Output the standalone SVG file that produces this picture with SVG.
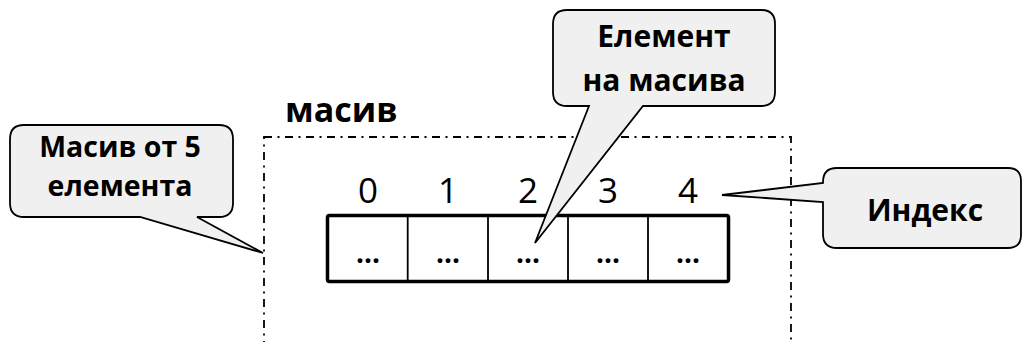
<svg xmlns="http://www.w3.org/2000/svg" width="1023" height="342" viewBox="0 0 1023 342">
<style>
.call{fill:#f0f0f0;stroke:#000;stroke-width:1.8;stroke-linejoin:miter}
.ct{font-family:"Open Sans","Noto Sans",sans-serif;font-weight:bold;font-size:30px;fill:#000;text-anchor:middle}
.idx{font-family:"Open Sans","Noto Sans",sans-serif;font-size:35px;fill:#000;text-anchor:middle}
.dots{font-family:"Open Sans","Noto Sans",sans-serif;font-weight:bold;font-size:28px;fill:#000;text-anchor:middle}
</style>
<rect width="1023" height="342" fill="#fff"/>
<g id="array-frame">
<rect x="264" y="137" width="527" height="230" fill="none" stroke="#000" stroke-width="1.8" stroke-dasharray="8 5.5 2 5.5"/>
<text x="285" y="122" font-family="Open Sans, Noto Sans, sans-serif" font-weight="bold" font-size="34" fill="#000">масив</text>
</g>
<g id="indices">
<text class="idx" x="368" y="203">0</text>
<text class="idx" x="448" y="203">1</text>
<text class="idx" x="528" y="203">2</text>
<text class="idx" x="608" y="203">3</text>
<text class="idx" x="688" y="203">4</text>
</g>
<g id="array">
<rect x="327.5" y="215.5" width="401" height="66" rx="2" fill="#fff" stroke="#000" stroke-width="3.5"/>
<path d="M407.7 216V282M488 216V282M568 216V282M648 216V282" stroke="#000" stroke-width="1.8" fill="none"/>
<text class="dots" x="368" y="263">...</text>
<text class="dots" x="448" y="263">...</text>
<text class="dots" x="528" y="263">...</text>
<text class="dots" x="608" y="263">...</text>
<text class="dots" x="688" y="263">...</text>
</g>
<g id="callout-array">
<path class="call" d="M24 125H219Q233 125 233 139V203Q233 217 219 217H197L263 253L140 217H24Q10 217 10 203V139Q10 125 24 125Z"/>
<text class="ct" x="120" y="157" style="font-size:28.5px">Масив от 5</text>
<text class="ct" x="120" y="196" style="font-size:28.5px">елемента</text>
</g>
<g id="callout-element">
<path class="call" d="M567 10H761Q775 10 775 24V92Q775 106 761 106H643L535 243L589 106H567Q553 106 553 92V24Q553 10 567 10Z"/>
<text class="ct" x="664" y="47">Елемент</text>
<text class="ct" x="664" y="91">на масива</text>
</g>
<g id="callout-index">
<path class="call" d="M837 168H1008Q1021 168 1021 181V235Q1021 248 1008 248H837Q823 248 823 234V202L722 195L823 183V182Q823 168 837 168Z"/>
<text class="ct" x="925" y="221">Индекс</text>
</g>
</svg>
